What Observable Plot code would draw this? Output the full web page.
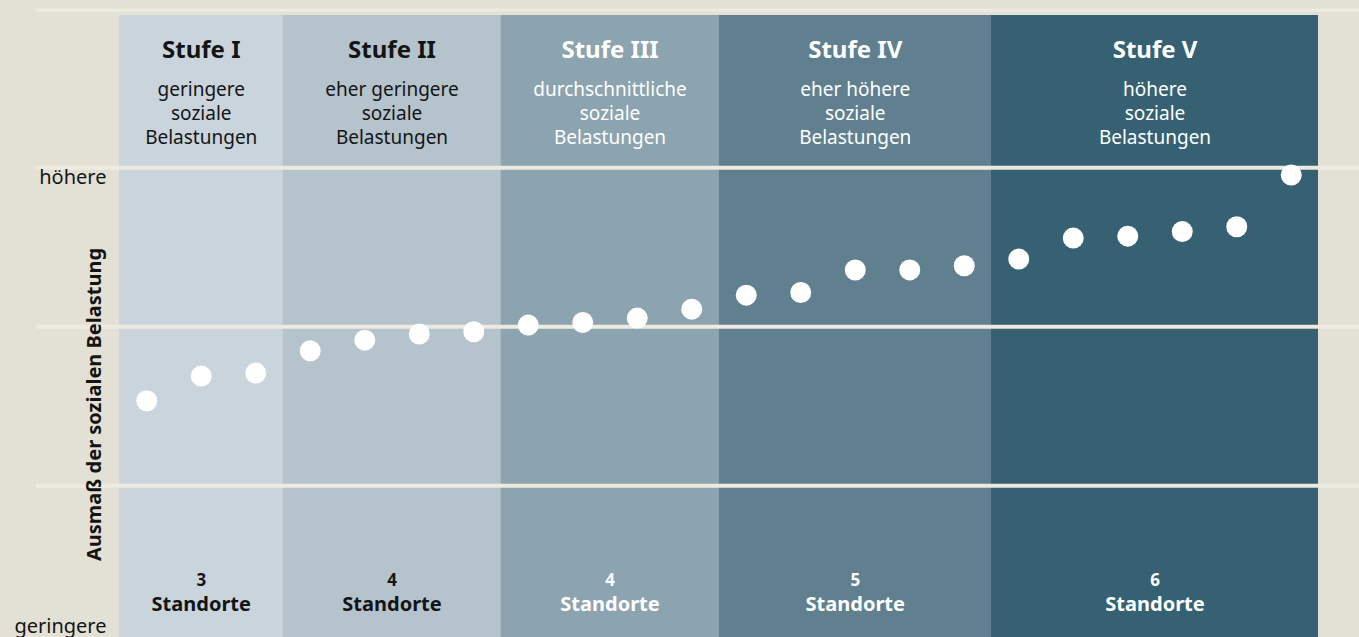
<!DOCTYPE html>
<html><head><meta charset="utf-8">
<script src="https://cdn.jsdelivr.net/npm/d3@7"></script>
<script src="https://cdn.jsdelivr.net/npm/@observablehq/plot@0.6"></script>
<style>
html,body{margin:0;padding:0;background:#e3e1d6;}
#chart svg{display:block;}
</style>
</head><body><div id="chart"></div>
<script>
// ---- data ----
const stages = ["Stufe I", "Stufe II", "Stufe III", "Stufe IV", "Stufe V"];
const descriptions = [
  "geringere\nsoziale\nBelastungen",
  "eher geringere\nsoziale\nBelastungen",
  "durchschnittliche\nsoziale\nBelastungen",
  "eher höhere\nsoziale\nBelastungen",
  "höhere\nsoziale\nBelastungen"
];
const siteCounts = [3, 4, 4, 5, 6];
const siteLabel = "Standorte";
// social burden index per site (sorted), 0..4 scale where gridlines are at 1,2,3
const burden = [1.535, 1.690, 1.709, 1.849, 1.916, 1.954, 1.969, 2.011, 2.027, 2.055, 2.111,
                2.199, 2.216, 2.357, 2.358, 2.384, 2.426, 2.558, 2.570, 2.599, 2.629, 2.954];
const yTickLabels = ["geringere", "höhere"];
const yTitle = "Ausmaß der sozialen Belastung";
const gridValues = [1, 2, 3];

// ---- styles ----
const bg = "#e3e1d6";
const gridColor = "#eeeadf";
const bandColors = ["#c9d4dc", "#b5c3cd", "#8ca3b0", "#60808f", "#356173"];
const font = "Noto Sans, sans-serif";

// ---- derived table ----
let acc = 0;
const bands = stages.map((s, i) => {
  const start = acc; acc += siteCounts[i];
  return {stage: s, desc: descriptions[i], count: siteCounts[i],
          x1: start - 0.5, x2: acc - 0.5, xc: (start + acc - 1) / 2, dark: i < 2};
});
const points = burden.map((v, i) => ({i, v}));
const textFill = d => d.dark ? "#141414" : "#ffffff";

const chart = Plot.plot({
  width: 1359,
  height: 637,
  marginTop: 0, marginBottom: 0, marginLeft: 36, marginRight: 0,
  style: {background: bg, fontFamily: font, overflow: "hidden"},
  x: {domain: [-0.5, burden.length - 0.5], range: [119, 1318], axis: null},
  y: {domain: [0, 4], range: [644.3, 8.3], axis: null},
  color: {domain: stages, range: bandColors},
  marks: [
    Plot.rect(bands, {x1: "x1", x2: "x2", y1: 0, y2: 4, insetTop: 6.7, fill: "stage"}),
    Plot.ruleY(gridValues, {stroke: gridColor, strokeWidth: 4}),
    Plot.ruleY([4], {stroke: gridColor, strokeWidth: 3.3, dy: 1.4}),
    Plot.dot(points, {x: "i", y: "v", r: 10.5, fill: "white", stroke: null}),
    // headers
    Plot.text(bands, {x: "xc", frameAnchor: "top", dy: 57, lineAnchor: "bottom", text: "stage",
      fontSize: 24, fontWeight: 700, fill: textFill}),
    Plot.text(bands, {x: "xc", frameAnchor: "top", dy: 143, lineAnchor: "bottom", text: "desc",
      fontSize: 19, lineHeight: 1.263, fill: textFill}),
    // bottom counts
    Plot.text(bands, {x: "xc", frameAnchor: "bottom", dy: -52, lineAnchor: "bottom",
      text: d => String(d.count), fontSize: 17, fontWeight: 700, fill: textFill}),
    Plot.text(bands, {x: "xc", frameAnchor: "bottom", dy: -26.3, lineAnchor: "bottom",
      text: () => siteLabel, fontSize: 20, fontWeight: 700, fill: textFill}),
    // y labels
    Plot.text([yTickLabels[1]], {frameAnchor: "left", y: () => 3, dx: 70, dy: 16, textAnchor: "end",
      lineAnchor: "bottom", fontSize: 20, fill: "#141414"}),
    Plot.text([yTickLabels[0]], {frameAnchor: "bottom-left", dx: 70, dy: -4.5, textAnchor: "end",
      lineAnchor: "bottom", fontSize: 20, fill: "#141414"}),
    Plot.text([yTitle], {frameAnchor: "left", dx: 58, dy: 85.5, rotate: -90, textAnchor: "middle",
      lineAnchor: "middle", fontSize: 20, fontWeight: 700, fill: "#141414"})
  ]
});
document.getElementById("chart").appendChild(chart);
</script>
</body></html>
